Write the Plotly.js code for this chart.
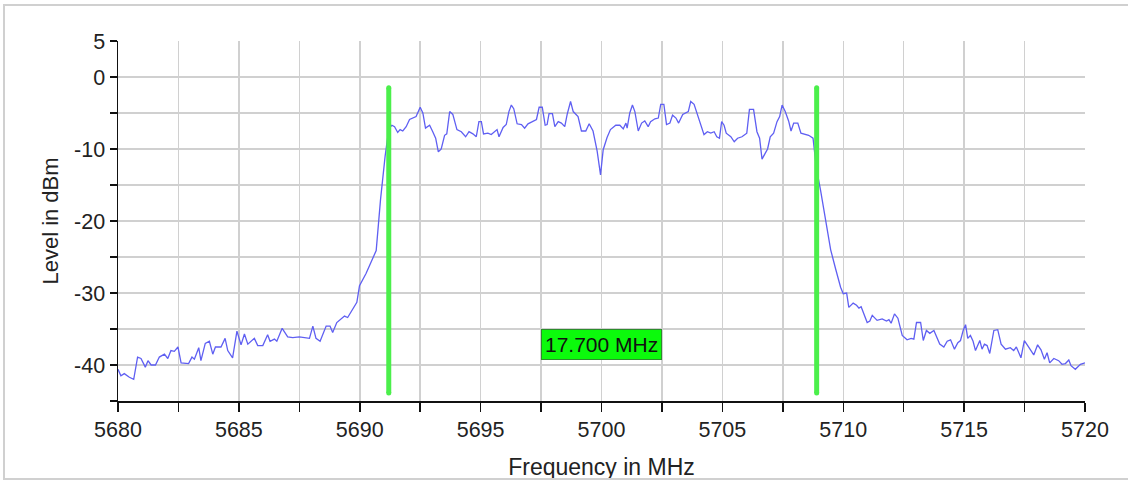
<!DOCTYPE html>
<html>
<head>
<meta charset="utf-8">
<script src="https://cdn.plot.ly/plotly-3.0.1.min.js"></script>
<style>
html,body{margin:0;padding:0;background:#fff;}
#wrap{position:relative;width:1128px;height:481px;overflow:hidden;}
#chart{position:absolute;left:0;top:0;width:1128px;height:481px;}
#frame{position:absolute;left:3px;top:4px;width:1140px;height:472px;border:2px solid #d0d0d0;pointer-events:none;z-index:5;}
</style>
</head>
<body>
<div id="wrap"><div id="chart"></div><div id="frame"></div></div>
<script>
// Spectrum trace
const freqMHz = [
5680.00,5680.12,5680.26,5680.47,5680.65,5680.81,5680.95,5681.13,5681.24,5681.37,
5681.55,5681.71,5681.92,5682.06,5682.19,5682.33,5682.48,5682.61,5682.92,5683.06,
5683.16,5683.34,5683.43,5683.61,5683.78,5683.92,5684.03,5684.26,5684.43,5684.54,
5684.74,5684.92,5685.09,5685.23,5685.37,5685.64,5685.78,5685.99,5686.19,5686.29,
5686.47,5686.57,5686.79,5687.02,5687.23,5687.50,5687.92,5688.06,5688.19,5688.36,
5688.61,5688.77,5688.88,5689.05,5689.37,5689.50,5689.88,5689.99,5690.26,5690.68,
5690.86,5690.95,5691.05,5691.15,5691.25,5691.33,5691.44,5691.57,5691.67,5691.78,
5691.92,5692.06,5692.20,5692.33,5692.50,5692.61,5692.72,5692.89,5693.02,5693.14,
5693.25,5693.37,5693.51,5693.60,5693.72,5693.85,5694.02,5694.20,5694.38,5694.52,
5694.68,5694.82,5694.93,5695.03,5695.12,5695.30,5695.44,5695.58,5695.68,5695.76,
5695.93,5696.06,5696.17,5696.27,5696.37,5696.51,5696.69,5696.82,5696.96,5697.14,
5697.31,5697.42,5697.55,5697.67,5697.75,5697.83,5697.97,5698.07,5698.21,5698.34,
5698.48,5698.58,5698.72,5698.83,5699.03,5699.17,5699.35,5699.49,5699.65,5699.82,
5699.96,5700.07,5700.23,5700.37,5700.59,5700.76,5700.90,5701.01,5701.06,5701.17,
5701.28,5701.38,5701.52,5701.66,5701.79,5701.93,5702.03,5702.21,5702.35,5702.45,
5702.58,5702.69,5702.83,5702.94,5703.08,5703.19,5703.36,5703.59,5703.69,5703.83,
5703.94,5704.08,5704.24,5704.38,5704.52,5704.66,5704.77,5704.88,5704.97,5705.07,
5705.16,5705.35,5705.49,5705.63,5705.81,5706.01,5706.12,5706.29,5706.43,5706.54,
5706.64,5706.77,5706.87,5706.98,5707.12,5707.26,5707.37,5707.47,5707.60,5707.74,
5707.84,5707.95,5708.12,5708.25,5708.43,5708.57,5708.75,5708.89,5709.06,5709.25,
5709.48,5709.68,5709.89,5710.00,5710.14,5710.23,5710.41,5710.55,5710.65,5710.74,
5710.85,5710.99,5711.10,5711.20,5711.40,5711.61,5711.79,5711.89,5711.98,5712.12,
5712.26,5712.44,5712.64,5712.81,5712.92,5713.03,5713.20,5713.31,5713.44,5713.58,
5713.75,5713.88,5713.99,5714.16,5714.30,5714.44,5714.60,5714.74,5714.85,5714.96,
5715.06,5715.15,5715.26,5715.37,5715.47,5715.65,5715.74,5715.84,5715.95,5716.06,
5716.23,5716.39,5716.53,5716.71,5716.91,5717.05,5717.16,5717.35,5717.49,5717.63,
5717.77,5717.88,5718.04,5718.18,5718.32,5718.43,5718.54,5718.71,5718.91,5719.05,
5719.19,5719.33,5719.42,5719.60,5719.81,5720.00
];
const levelDbm = [
-40.6,-41.5,-41.2,-41.7,-42.0,-38.9,-39.1,-40.3,-39.4,-40.0,
-40.0,-38.9,-38.5,-39.1,-38.0,-38.1,-37.5,-39.7,-39.8,-38.9,
-39.2,-37.6,-39.4,-37.0,-36.7,-38.5,-37.5,-37.5,-36.3,-38.0,
-39.0,-35.3,-37.2,-35.7,-37.1,-36.3,-37.3,-37.3,-35.8,-36.7,
-36.4,-36.7,-34.9,-36.1,-36.2,-36.1,-36.3,-34.6,-36.3,-36.7,
-34.6,-34.6,-35.5,-34.1,-33.2,-33.4,-31.3,-29.0,-27.3,-24.1,
-17.0,-14.0,-11.0,-8.5,-7.0,-6.7,-6.9,-7.7,-7.3,-7.5,
-6.9,-5.9,-5.7,-5.5,-4.2,-5.0,-7.1,-6.7,-7.6,-8.5,
-10.4,-10.0,-8.1,-7.9,-4.8,-5.2,-7.3,-7.6,-8.3,-7.6,
-7.9,-8.3,-6.2,-6.2,-7.9,-7.8,-8.0,-7.6,-7.3,-8.3,
-7.0,-6.6,-4.8,-3.9,-4.4,-6.5,-6.6,-7.1,-6.5,-6.2,
-5.9,-4.2,-4.2,-6.7,-6.6,-5.1,-5.1,-6.9,-6.2,-6.4,
-6.9,-5.2,-3.4,-4.8,-5.5,-7.5,-7.5,-6.5,-7.5,-10.3,
-13.6,-10.1,-8.4,-7.3,-6.7,-6.7,-7.2,-6.4,-7.1,-5.0,
-3.9,-4.8,-7.5,-6.4,-6.1,-6.9,-6.2,-5.8,-5.7,-3.8,
-3.8,-6.6,-6.4,-5.3,-5.7,-6.4,-5.2,-4.8,-3.4,-3.8,
-5.0,-6.6,-8.0,-7.6,-7.8,-7.6,-8.3,-8.5,-6.2,-6.7,
-7.8,-8.3,-9.0,-8.5,-8.3,-7.8,-4.5,-4.5,-7.6,-8.5,
-11.4,-10.6,-10.0,-8.3,-7.8,-6.2,-5.5,-3.9,-4.8,-6.1,
-7.5,-6.4,-6.4,-7.8,-8.0,-8.1,-8.5,-12.7,-15.7,-19.5,
-24.0,-26.6,-29.2,-30.1,-30.0,-32.0,-31.4,-31.7,-32.1,-31.9,
-32.8,-34.1,-33.9,-33.1,-33.8,-33.6,-33.9,-33.7,-34.2,-32.9,
-33.5,-35.9,-36.5,-36.3,-36.4,-34.1,-34.1,-36.6,-35.2,-35.6,
-35.2,-36.3,-37.1,-37.5,-36.7,-36.5,-37.8,-36.9,-36.6,-35.2,
-34.4,-36.3,-35.9,-36.7,-38.0,-36.6,-37.8,-37.1,-37.3,-38.4,
-35.2,-35.1,-37.1,-37.8,-37.6,-38.0,-37.5,-39.0,-36.6,-37.3,
-38.0,-38.6,-37.2,-37.9,-39.2,-38.3,-39.7,-39.1,-39.4,-39.9,
-39.8,-39.3,-40.1,-40.6,-39.9,-39.7
];

// Marker lines (bandwidth cursors)
const markerFreqs = [5691.2, 5708.9];
const markerTop = -1.5;
const markerBottom = -43.9;
const bandwidthLabel = "17.700 MHz";
const labelFreq = 5700;
const labelLevel = -37.2;

// Axis ticks
const xTickVals = [5680,5682.5,5685,5687.5,5690,5692.5,5695,5697.5,5700,5702.5,5705,5707.5,5710,5712.5,5715,5717.5,5720];
const xTickText = ["5680","","5685","","5690","","5695","","5700","","5705","","5710","","5715","","5720"];
const yTickVals = [5,0,-5,-10,-15,-20,-25,-30,-35,-40,-45];
const yTickText = ["5","0","","-10","","-20","","-30","","-40",""];

const font = "Liberation Sans, Arial, sans-serif";
const traces = [{
  x: freqMHz, y: levelDbm, type: "scatter", mode: "lines",
  line: {color: "#5f5ff2", width: 1.3}, hoverinfo: "skip"
}];
markerFreqs.forEach(f => {
  traces.push({
    x: [f, f], y: [markerTop, markerBottom], type: "scatter", mode: "lines+markers",
    line: {color: "#4bef4b", width: 5},
    marker: {color: "#4bef4b", size: 5},
    hoverinfo: "skip"
  });
});

const layout = {
  width: 1128, height: 481,
  margin: {l: 118, r: 43, t: 41, b: 80},
  paper_bgcolor: "#ffffff", plot_bgcolor: "#ffffff",
  showlegend: false,
  font: {family: font, color: "#222222", size: 21},
  xaxis: {
    range: [5680, 5720], tickmode: "array", tickvals: xTickVals, ticktext: xTickText,
    showgrid: true, gridcolor: "#d0d0d0", gridwidth: 1.5,
    showline: true, linecolor: "#111", linewidth: 1.5,
    ticks: "outside", ticklen: 9, tickcolor: "#111", tickwidth: 1.5,
    tickfont: {family: font, size: 21.5, color: "#222"},
    zeroline: false,
    title: {text: "Frequency in MHz", font: {family: font, size: 23, color: "#222"}, standoff: 17}
  },
  yaxis: {
    range: [-45, 5], tickmode: "array", tickvals: yTickVals, ticktext: yTickText,
    showgrid: true, gridcolor: "#d0d0d0", gridwidth: 1.5,
    showline: true, linecolor: "#111", linewidth: 1.5,
    ticks: "outside", ticklen: 7, tickcolor: "#111", tickwidth: 1.5,
    tickfont: {family: font, size: 21.5, color: "#222"},
    zeroline: false,
    title: {text: "Level in dBm", font: {family: font, size: 22, color: "#222"}, standoff: 9}
  },
  annotations: [{
    x: labelFreq, y: labelLevel, xref: "x", yref: "y", text: bandwidthLabel, showarrow: false,
    font: {family: font, size: 21, color: "#111"},
    bgcolor: "#0cfa0c", bordercolor: "#2c8c2c", borderwidth: 1, borderpad: 3
  }]
};
Plotly.newPlot("chart", traces, layout, {staticPlot: true, displayModeBar: false});
</script>
</body>
</html>
